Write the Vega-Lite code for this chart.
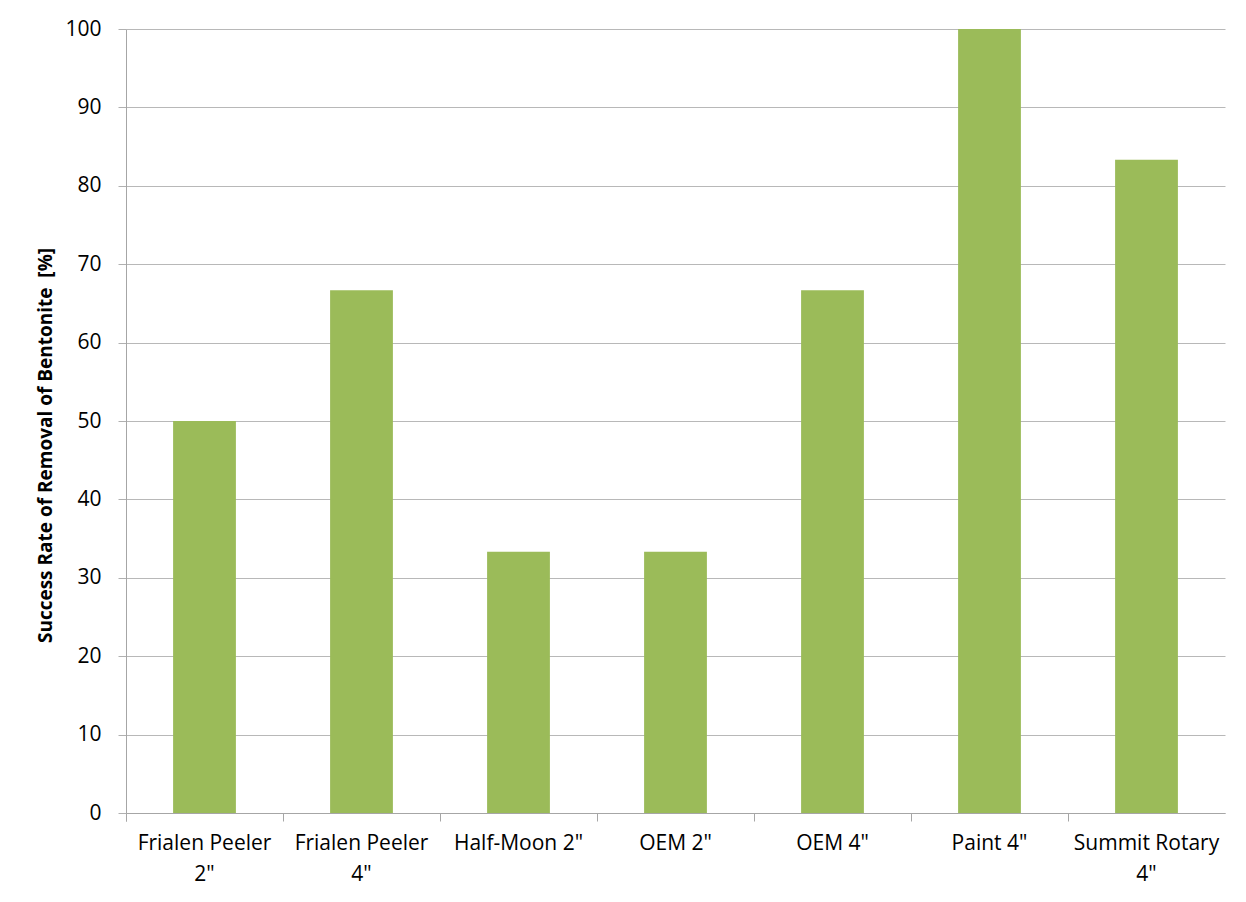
{
  "$schema": "https://vega.github.io/schema/vega-lite/v6.json",
  "autosize": "none",
  "width": 1099,
  "height": 784,
  "padding": {"left": 126, "top": 29, "right": 21, "bottom": 89},
  "background": "white",
  "data": {
    "values": [
      {"tool": "Frialen Peeler\n2\"", "rate": 50},
      {"tool": "Frialen Peeler\n4\"", "rate": 66.67},
      {"tool": "Half-Moon 2\"", "rate": 33.33},
      {"tool": "OEM 2\"", "rate": 33.33},
      {"tool": "OEM 4\"", "rate": 66.67},
      {"tool": "Paint 4\"", "rate": 100},
      {"tool": "Summit Rotary\n4\"", "rate": 83.33}
    ]
  },
  "mark": {"type": "bar", "color": "#9BBB59", "width": {"band": 0.4}},
  "encoding": {
    "x": {
      "field": "tool",
      "type": "nominal",
      "sort": null,
      "scale": {"paddingInner": 0, "paddingOuter": 0},
      "axis": {
        "title": null,
        "labelAngle": 0,
        "bandPosition": 0,
        "tickExtra": true,
        "labelExpr": "split(datum.label, '\\n')",
        "labelFont": "Open Sans",
        "labelFontSize": 21,
        "labelColor": "#000000",
        "labelLineHeight": 31,
        "labelPadding": 11,
        "labelBaseline": "top",
        "tickColor": "#A6A6A6",
        "tickSize": 8,
        "domainColor": "#A6A6A6",
        "grid": false
      }
    },
    "y": {
      "field": "rate",
      "type": "quantitative",
      "scale": {"domain": [0, 100], "nice": false},
      "axis": {
        "title": "Success Rate of Removal of Bentonite \u00a0[%]",
        "titleFont": "Open Sans",
        "titleFontSize": 19,
        "titleFontWeight": "bold",
        "titleColor": "#000000",
        "titleX": -81,
        "titleY": 416,
        "titleAlign": "center",
        "titleBaseline": "middle",
        "values": [0, 10, 20, 30, 40, 50, 60, 70, 80, 90, 100],
        "labelFont": "Open Sans",
        "labelFontSize": 21,
        "labelColor": "#000000",
        "labelPadding": 17,
        "tickColor": "#B0B0B0",
        "tickSize": 8,
        "domainColor": "#A6A6A6",
        "gridColor": "#B8B8B8",
        "grid": true
      }
    }
  },
  "config": {"view": {"stroke": null}}
}
